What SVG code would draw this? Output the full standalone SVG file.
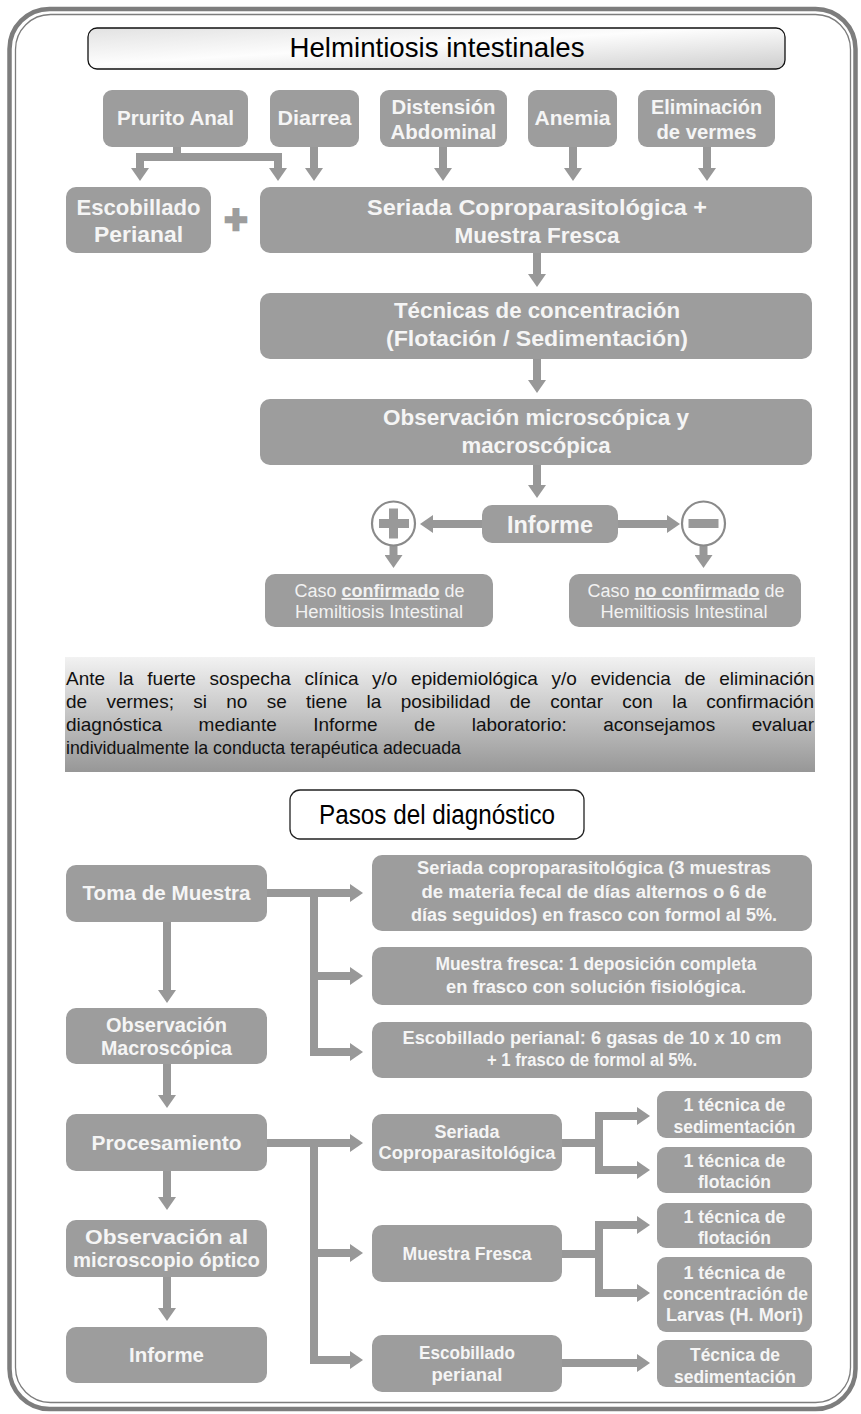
<svg xmlns="http://www.w3.org/2000/svg" width="861" height="1414" viewBox="0 0 861 1414">
<defs>
<style>
.box{fill:#9d9d9d;}
.t{font-family:"Liberation Sans",Arial,sans-serif;fill:#f5f5f5;font-weight:bold;text-anchor:middle;}
.f20{font-size:20px;}
.f22{font-size:22px;}
.f18{font-size:18px;}
.caso{font-family:"Liberation Sans",Arial,sans-serif;fill:#f2f2f2;font-size:18px;text-anchor:middle;}
.conn{stroke:#989898;stroke-width:8;fill:none;stroke-linejoin:miter;}
.note{font-family:"Liberation Sans",Arial,sans-serif;fill:#111;font-size:19px;}
.frame{fill:none;stroke:#7d7d7d;}
</style>
<marker id="ah" viewBox="0 0 13 18" refX="0" refY="9" markerWidth="13" markerHeight="18" markerUnits="userSpaceOnUse" orient="auto">
<path d="M0,0 L13,9 L0,18 z" fill="#989898"/>
</marker>
<linearGradient id="tg" x1="0" y1="0" x2="1" y2="1">
<stop offset="0" stop-color="#e2e2e2"/>
<stop offset="0.45" stop-color="#fdfdfd"/>
<stop offset="1" stop-color="#cdcdcd"/>
</linearGradient>
<linearGradient id="ng" x1="0" y1="0" x2="0" y2="1">
<stop offset="0" stop-color="#f2f2f2"/>
<stop offset="1" stop-color="#979797"/>
</linearGradient>
</defs>
<rect x="0" y="0" width="861" height="1414" fill="#ffffff"/>
<g id="frame">
<rect class="frame" x="9.5" y="9" width="846" height="1400" rx="40" stroke-width="4.5"/>
<rect class="frame" x="15.5" y="14.5" width="835" height="1388" rx="35" stroke-width="1.3"/>
</g>

<g id="title">
<rect x="88" y="28" width="697" height="41" rx="9" fill="url(#tg)" stroke="#111" stroke-width="1.3"/>
<text x="437" y="57" font-family="'Liberation Sans',Arial,sans-serif" font-size="28" fill="#000" text-anchor="middle" textLength="295" lengthAdjust="spacingAndGlyphs">Helmintiosis intestinales</text>
</g>

<g id="connectors">
<path class="conn" d="M177,147 V157"/>
<path class="conn" d="M136,157 H282"/>
<path class="conn" d="M140,157 V168" marker-end="url(#ah)"/>
<path class="conn" d="M278,157 V168" marker-end="url(#ah)"/>
<path class="conn" d="M314,147 V168" marker-end="url(#ah)"/>
<path class="conn" d="M443,147 V168" marker-end="url(#ah)"/>
<path class="conn" d="M573,147 V168" marker-end="url(#ah)"/>
<path class="conn" d="M707,147 V168" marker-end="url(#ah)"/>
<path class="conn" d="M537,253 V274" marker-end="url(#ah)"/>
<path class="conn" d="M537,359 V380" marker-end="url(#ah)"/>
<path class="conn" d="M537,465 V485" marker-end="url(#ah)"/>
<path class="conn" d="M482,524 H433" marker-end="url(#ah)"/>
<path class="conn" d="M618,524 H667" marker-end="url(#ah)"/>
<path class="conn" d="M393.5,545 V555" marker-end="url(#ah)"/>
<path class="conn" d="M703.5,545 V555" marker-end="url(#ah)"/>

<path class="conn" d="M267,893 H350" marker-end="url(#ah)"/>
<path class="conn" d="M314,893 V1052 H350" marker-end="url(#ah)"/>
<path class="conn" d="M314,976 H350" marker-end="url(#ah)"/>
<path class="conn" d="M167,922 V990" marker-end="url(#ah)"/>
<path class="conn" d="M167,1064 V1095" marker-end="url(#ah)"/>
<path class="conn" d="M267,1143 H350" marker-end="url(#ah)"/>
<path class="conn" d="M314,1143 V1360 H350" marker-end="url(#ah)"/>
<path class="conn" d="M314,1253 H350" marker-end="url(#ah)"/>
<path class="conn" d="M167,1171 V1197" marker-end="url(#ah)"/>
<path class="conn" d="M167,1277 V1308" marker-end="url(#ah)"/>
<path class="conn" d="M562,1143 H599"/>
<path class="conn" d="M599,1143 V1116 H637" marker-end="url(#ah)"/>
<path class="conn" d="M599,1143 V1170 H637" marker-end="url(#ah)"/>
<path class="conn" d="M562,1254 H599"/>
<path class="conn" d="M599,1254 V1225 H637" marker-end="url(#ah)"/>
<path class="conn" d="M599,1254 V1293 H637" marker-end="url(#ah)"/>
<path class="conn" d="M562,1363 H637" marker-end="url(#ah)"/>
</g>

<g id="prurito">
<rect class="box" x="103" y="90" width="145" height="57" rx="9"/>
<text class="t f20" x="175.5" y="125" textLength="117" lengthAdjust="spacingAndGlyphs">Prurito Anal</text>
</g>
<g id="diarrea">
<rect class="box" x="270" y="90" width="89" height="57" rx="9"/>
<text class="t f20" x="314.5" y="125" textLength="74" lengthAdjust="spacingAndGlyphs">Diarrea</text>
</g>
<g id="distension">
<rect class="box" x="380" y="90" width="127" height="57" rx="9"/>
<text class="t f20" x="443.5" y="114" textLength="104" lengthAdjust="spacingAndGlyphs">Distensión</text>
<text class="t f20" x="443.5" y="139" textLength="106" lengthAdjust="spacingAndGlyphs">Abdominal</text>
</g>
<g id="anemia">
<rect class="box" x="528" y="90" width="89" height="57" rx="9"/>
<text class="t f20" x="572.5" y="125" textLength="76" lengthAdjust="spacingAndGlyphs">Anemia</text>
</g>
<g id="eliminacion">
<rect class="box" x="638" y="90" width="137" height="57" rx="9"/>
<text class="t f20" x="706.5" y="114" textLength="111" lengthAdjust="spacingAndGlyphs">Eliminación</text>
<text class="t f20" x="706.5" y="139" textLength="100" lengthAdjust="spacingAndGlyphs">de vermes</text>
</g>

<g id="escobillado">
<rect class="box" x="66" y="187" width="145" height="66" rx="10"/>
<text class="t f22" x="138.5" y="215" textLength="124" lengthAdjust="spacingAndGlyphs">Escobillado</text>
<text class="t f22" x="138.5" y="242" textLength="89" lengthAdjust="spacingAndGlyphs">Perianal</text>
</g>
<g id="plus-sign">
<text x="236" y="233" font-family="'Liberation Sans',Arial,sans-serif" font-size="40" font-weight="bold" fill="#9d9d9d" stroke="#9d9d9d" stroke-width="2.5" text-anchor="middle">+</text>
</g>
<g id="seriada">
<rect class="box" x="260" y="187" width="552" height="66" rx="10"/>
<text class="t f22" x="537" y="215" textLength="340" lengthAdjust="spacingAndGlyphs">Seriada Coproparasitológica +</text>
<text class="t f22" x="537" y="243" textLength="165" lengthAdjust="spacingAndGlyphs">Muestra Fresca</text>
</g>
<g id="tecnicas">
<rect class="box" x="260" y="293" width="552" height="66" rx="10"/>
<text class="t f22" x="537" y="318" textLength="286" lengthAdjust="spacingAndGlyphs">Técnicas de concentración</text>
<text class="t f22" x="537" y="346" textLength="302" lengthAdjust="spacingAndGlyphs">(Flotación / Sedimentación)</text>
</g>
<g id="observacion">
<rect class="box" x="260" y="399" width="552" height="66" rx="10"/>
<text class="t f22" x="536" y="425" textLength="306" lengthAdjust="spacingAndGlyphs">Observación microscópica y</text>
<text class="t f22" x="536" y="453" textLength="149" lengthAdjust="spacingAndGlyphs">macroscópica</text>
</g>
<g id="informe">
<rect class="box" x="482" y="505" width="136" height="38" rx="10"/>
<text class="t" x="550" y="533" font-size="23" textLength="86" lengthAdjust="spacingAndGlyphs">Informe</text>
</g>
<g id="positivo">
<ellipse cx="393.5" cy="523.5" rx="21.5" ry="22" fill="#fff" stroke="#8a8a8a" stroke-width="2.2"/>
<rect x="379" y="519" width="30" height="9" fill="#999"/>
<rect x="389" y="508.5" width="9" height="30" fill="#999"/>
</g>
<g id="negativo">
<ellipse cx="703.5" cy="523.5" rx="21.5" ry="22" fill="#fff" stroke="#8a8a8a" stroke-width="2.2"/>
<rect x="688.5" y="519" width="30" height="9" fill="#999"/>
</g>
<g id="caso-confirmado">
<rect class="box" x="265" y="574" width="228" height="53" rx="10"/>
<text class="caso" x="379.5" y="597">Caso <tspan font-weight="bold" text-decoration="underline">confirmado</tspan> de</text>
<text class="caso" x="379" y="618" textLength="168" lengthAdjust="spacingAndGlyphs">Hemiltiosis Intestinal</text>
</g>
<g id="caso-no-confirmado">
<rect class="box" x="569" y="574" width="232" height="53" rx="10"/>
<text class="caso" x="686" y="597">Caso <tspan font-weight="bold" text-decoration="underline">no confirmado</tspan> de</text>
<text class="caso" x="684" y="618" textLength="167" lengthAdjust="spacingAndGlyphs">Hemiltiosis Intestinal</text>
</g>

<g id="nota">
<rect x="65" y="657" width="750" height="115" fill="url(#ng)"/>
<text class="note" y="685"><tspan x="66">Ante</tspan><tspan x="118.8">la</tspan><tspan x="147.3">fuerte</tspan><tspan x="209.6">sospecha</tspan><tspan x="304.6">clínica</tspan><tspan x="372.1">y/o</tspan><tspan x="411.1">epidemiológica</tspan><tspan x="551.5">y/o</tspan><tspan x="590.5">evidencia</tspan><tspan x="684.5">de</tspan><tspan x="719.3">eliminación</tspan></text>
<text class="note" y="708"><tspan x="66">de</tspan><tspan x="106.4">vermes;</tspan><tspan x="193.3">si</tspan><tspan x="226.3">no</tspan><tspan x="266.7">se</tspan><tspan x="306.1">tiene</tspan><tspan x="366.6">la</tspan><tspan x="400.7">posibilidad</tspan><tspan x="509.8">de</tspan><tspan x="550.2">contar</tspan><tspan x="622.3">con</tspan><tspan x="672.2">la</tspan><tspan x="706.3">confirmación</tspan></text>
<text class="note" y="731"><tspan x="66">diagnóstica</tspan><tspan x="198.6">mediante</tspan><tspan x="313.2">Informe</tspan><tspan x="414.1">de</tspan><tspan x="471.7">laboratorio:</tspan><tspan x="603.2">aconsejamos</tspan><tspan x="751.7">evaluar</tspan></text>
<text class="note" x="66" y="754" textLength="395" lengthAdjust="spacingAndGlyphs">individualmente la conducta terapéutica adecuada</text>
</g>

<g id="pasos">
<rect x="290" y="790" width="294" height="49" rx="10" fill="#fff" stroke="#222" stroke-width="1.3"/>
<text x="437" y="824" font-family="'Liberation Sans',Arial,sans-serif" font-size="27" fill="#000" text-anchor="middle" textLength="236" lengthAdjust="spacingAndGlyphs">Pasos del diagnóstico</text>
</g>

<g id="toma">
<rect class="box" x="66" y="865" width="201" height="57" rx="10"/>
<text class="t f20" x="166.5" y="900" textLength="168" lengthAdjust="spacingAndGlyphs">Toma de Muestra</text>
</g>
<g id="obs-macro">
<rect class="box" x="66" y="1008" width="201" height="56" rx="10"/>
<text class="t f20" x="166.5" y="1032" textLength="121" lengthAdjust="spacingAndGlyphs">Observación</text>
<text class="t f20" x="166.5" y="1055" textLength="131" lengthAdjust="spacingAndGlyphs">Macroscópica</text>
</g>
<g id="procesamiento">
<rect class="box" x="66" y="1114" width="201" height="57" rx="10"/>
<text class="t f20" x="166.5" y="1150" textLength="150" lengthAdjust="spacingAndGlyphs">Procesamiento</text>
</g>
<g id="obs-micro">
<rect class="box" x="66" y="1220" width="201" height="57" rx="10"/>
<text class="t f20" x="166.5" y="1244" textLength="163" lengthAdjust="spacingAndGlyphs">Observación al</text>
<text class="t f20" x="166.5" y="1267" textLength="187" lengthAdjust="spacingAndGlyphs">microscopio óptico</text>
</g>
<g id="informe-final">
<rect class="box" x="66" y="1327" width="201" height="56" rx="10"/>
<text class="t f20" x="166.5" y="1362" textLength="75" lengthAdjust="spacingAndGlyphs">Informe</text>
</g>

<g id="muestra-seriada">
<rect class="box" x="372" y="855" width="440" height="76" rx="10"/>
<text class="t f18" x="594" y="874" textLength="354" lengthAdjust="spacingAndGlyphs">Seriada coproparasitológica (3 muestras</text>
<text class="t f18" x="594" y="898" textLength="345" lengthAdjust="spacingAndGlyphs">de materia fecal de días alternos o 6 de</text>
<text class="t f18" x="594" y="921" textLength="366" lengthAdjust="spacingAndGlyphs">días seguidos) en frasco con formol al 5%.</text>
</g>
<g id="muestra-fresca">
<rect class="box" x="372" y="947" width="440" height="58" rx="10"/>
<text class="t f18" x="596" y="970" textLength="321" lengthAdjust="spacingAndGlyphs">Muestra fresca: 1 deposición completa</text>
<text class="t f18" x="596" y="993" textLength="300" lengthAdjust="spacingAndGlyphs">en frasco con solución fisiológica.</text>
</g>
<g id="muestra-escobillado">
<rect class="box" x="372" y="1022" width="440" height="56" rx="10"/>
<text class="t f18" x="592" y="1044" textLength="379" lengthAdjust="spacingAndGlyphs">Escobillado perianal: 6 gasas de 10 x 10 cm</text>
<text class="t f18" x="592" y="1066" textLength="210" lengthAdjust="spacingAndGlyphs">+ 1 frasco de formol al 5%.</text>
</g>

<g id="proc-seriada">
<rect class="box" x="372" y="1114" width="190" height="57" rx="10"/>
<text class="t f18" x="467" y="1138" textLength="65" lengthAdjust="spacingAndGlyphs">Seriada</text>
<text class="t f18" x="467" y="1159" textLength="177" lengthAdjust="spacingAndGlyphs">Coproparasitológica</text>
</g>
<g id="proc-fresca">
<rect class="box" x="372" y="1225" width="190" height="57" rx="10"/>
<text class="t f18" x="467" y="1260" textLength="129" lengthAdjust="spacingAndGlyphs">Muestra Fresca</text>
</g>
<g id="proc-escobillado">
<rect class="box" x="372" y="1335" width="190" height="57" rx="10"/>
<text class="t f18" x="467" y="1359" textLength="96" lengthAdjust="spacingAndGlyphs">Escobillado</text>
<text class="t f18" x="467" y="1381" textLength="71" lengthAdjust="spacingAndGlyphs">perianal</text>
</g>

<g id="tec-sed-1">
<rect class="box" x="657" y="1091" width="155" height="47" rx="9"/>
<text class="t f18" x="734.5" y="1111" textLength="102" lengthAdjust="spacingAndGlyphs">1 técnica de</text>
<text class="t f18" x="734.5" y="1133" textLength="122" lengthAdjust="spacingAndGlyphs">sedimentación</text>
</g>
<g id="tec-flot-1">
<rect class="box" x="657" y="1147" width="155" height="46" rx="9"/>
<text class="t f18" x="734.5" y="1167" textLength="102" lengthAdjust="spacingAndGlyphs">1 técnica de</text>
<text class="t f18" x="734.5" y="1188" textLength="73" lengthAdjust="spacingAndGlyphs">flotación</text>
</g>
<g id="tec-flot-2">
<rect class="box" x="657" y="1203" width="155" height="45" rx="9"/>
<text class="t f18" x="734.5" y="1223" textLength="102" lengthAdjust="spacingAndGlyphs">1 técnica de</text>
<text class="t f18" x="734.5" y="1244" textLength="73" lengthAdjust="spacingAndGlyphs">flotación</text>
</g>
<g id="tec-larvas">
<rect class="box" x="657" y="1257" width="155" height="75" rx="9"/>
<text class="t f18" x="734.5" y="1279" textLength="102" lengthAdjust="spacingAndGlyphs">1 técnica de</text>
<text class="t f18" x="735.5" y="1300" textLength="145" lengthAdjust="spacingAndGlyphs">concentración de</text>
<text class="t f18" x="734.5" y="1321" textLength="137" lengthAdjust="spacingAndGlyphs">Larvas (H. Mori)</text>
</g>
<g id="tec-sed-2">
<rect class="box" x="657" y="1340" width="155" height="47" rx="9"/>
<text class="t f18" x="735" y="1361" textLength="90" lengthAdjust="spacingAndGlyphs">Técnica de</text>
<text class="t f18" x="735" y="1383" textLength="122" lengthAdjust="spacingAndGlyphs">sedimentación</text>
</g>
</svg>
